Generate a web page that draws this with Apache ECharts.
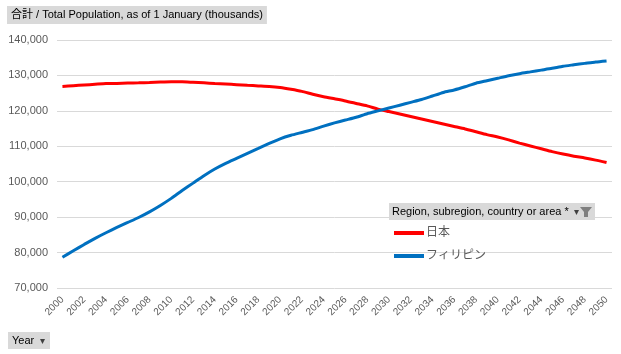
<!DOCTYPE html>
<html>
<head>
<meta charset="utf-8">
<script src="https://cdn.jsdelivr.net/npm/echarts@6/dist/echarts.min.js"></script>
<style>
  html, body { margin: 0; padding: 0; background: #fff; }
  #chart { width: 621px; height: 354px; }
</style>
</head>
<body>
<div id="chart"></div>
<script>
// 年
var years = [];
for (var y = 2000; y <= 2050; y++) years.push(String(y));

// 日本 (thousands)
var japan = [
  126900, 127100, 127300, 127500, 127700, 127750, 127850, 127900, 128000, 128150,
  128250, 128200, 128050, 127900, 127750, 127600, 127400, 127200, 127050, 126900,
  126600, 126100, 125500, 124700, 124000, 123400, 122800, 122100, 121400, 120500,
  119800, 119100, 118400, 117700, 117000, 116300, 115600, 114900, 114100, 113300,
  112600, 111800, 110900, 110100, 109300, 108500, 107800, 107200, 106700, 106100,
  105400
];

// フィリピン (thousands)
var philippines = [
  78700, 80500, 82300, 84000, 85600, 87100, 88500, 89900, 91500, 93300,
  95300, 97500, 99600, 101700, 103600, 105200, 106600, 108000, 109400, 110800,
  112100, 113100, 113900, 114700, 115700, 116600, 117400, 118200, 119200, 120000,
  120800, 121600, 122400, 123200, 124200, 125200, 125900, 126800, 127800, 128500,
  129200, 129900, 130500, 131000, 131500, 132000, 132600, 133000, 133400, 133800,
  134100
];

var seriesNames = ['日本', 'フィリピン'];
var yTicks = { min: 70000, max: 140000, interval: 10000 };

var font = '"Liberation Sans", "Noto Sans CJK JP", sans-serif';
var textGray = '#595959';

var chart = echarts.init(document.getElementById('chart'));

var option = {
  animation: false,
  backgroundColor: '#fff',
  textStyle: { fontFamily: font },
  title: {
    text: '合計 / Total Population, as of 1 January (thousands)',
    left: 7, top: 6,
    padding: [3, 4, 4, 4],
    backgroundColor: '#d9d9d9',
    textStyle: { fontFamily: font, fontSize: 11, fontWeight: 'normal', color: '#000' }
  },
  grid: { left: 57, right: 9, top: 40, bottom: 66 },
  legend: {
    orient: 'vertical',
    left: 389, top: 222,
    itemWidth: 30, itemHeight: 4,
    itemGap: 11,
    icon: 'rect',
    data: seriesNames,
    textStyle: { fontFamily: font, fontSize: 12, color: textGray, padding: [0, 0, 0, -3] }
  },
  xAxis: {
    type: 'category',
    data: years,
    boundaryGap: true,
    axisLine: { show: false },
    axisTick: { show: false },
    axisLabel: {
      interval: 1,
      rotate: 45,
      margin: 10,
      fontSize: 10,
      color: textGray,
      fontFamily: font
    }
  },
  yAxis: {
    type: 'value',
    min: yTicks.min, max: yTicks.max, interval: yTicks.interval,
    axisLine: { show: false },
    axisTick: { show: false },
    splitLine: { lineStyle: { color: '#d9d9d9', width: 1 } },
    axisLabel: {
      margin: 9,
      fontSize: 11,
      color: textGray,
      fontFamily: font,
      formatter: function (v) { return v.toLocaleString('en-US'); }
    }
  },
  series: [
    {
      name: seriesNames[0], type: 'line', data: japan,
      showSymbol: false, smooth: 0.2,
      lineStyle: { color: '#ff0000', width: 3 },
      itemStyle: { color: '#ff0000' }
    },
    {
      name: seriesNames[1], type: 'line', data: philippines,
      showSymbol: false, smooth: 0.2,
      lineStyle: { color: '#0070c0', width: 3 },
      itemStyle: { color: '#0070c0' }
    }
  ],
  graphic: [
    // legend header
    { type: 'rect', left: 389, top: 203, shape: { width: 206, height: 17 }, style: { fill: '#d9d9d9' } },
    { type: 'text', left: 392, top: 206, style: { text: 'Region, subregion, country or area *', font: '11px ' + font, fill: '#000' } },
    { type: 'text', left: 574, top: 207, style: { text: '▾', font: '10px ' + font, fill: '#404040' } },
    { type: 'polygon', shape: { points: [[580, 207], [592, 207], [588, 212], [588, 217], [584, 217], [584, 212]] }, style: { fill: '#7f7f7f' } },
    // Year button
    { type: 'rect', left: 8, top: 332, shape: { width: 42, height: 17 }, style: { fill: '#d9d9d9' } },
    { type: 'text', left: 12, top: 335, style: { text: 'Year', font: '11px ' + font, fill: '#000' } },
    { type: 'text', left: 40, top: 336, style: { text: '▾', font: '10px ' + font, fill: '#404040' } }
  ]
};

chart.setOption(option);
</script>
</body>
</html>
